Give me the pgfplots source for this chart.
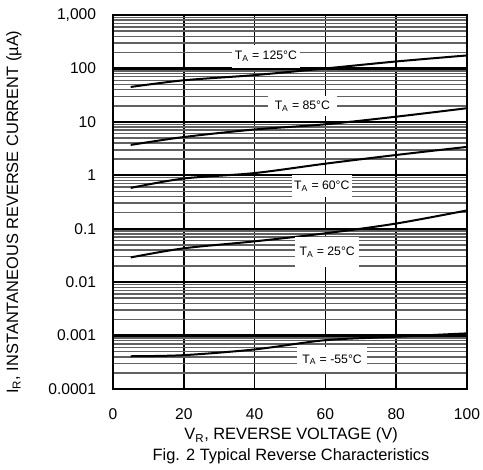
\documentclass[border=0pt]{standalone}
\usepackage{fontspec}
\setmainfont{Liberation Sans}
\usepackage{pgfplots}
\pgfplotsset{compat=1.18}
\begin{document}
\begin{tikzpicture}
\begin{axis}[
  scale only axis,
  width=265.5pt, height=280.5pt,
  xmin=0, xmax=100,
  ymode=log, ymin=0.0001, ymax=1000,
  log basis y=10,
  xtick={0,20,40,60,80,100},
  xticklabels={0,20,40,60,80,100},
  ytick={0.0001,0.001,0.01,0.1,1,10,100,1000},
  yticklabels={0.0001,0.001,0.01,0.1,1,10,100,{1,000}},
  minor ytick={2e-4,3e-4,4e-4,5e-4,6e-4,7e-4,8e-4,9e-4,
               2e-3,3e-3,4e-3,5e-3,6e-3,7e-3,8e-3,9e-3,
               2e-2,3e-2,4e-2,5e-2,6e-2,7e-2,8e-2,9e-2,
               0.2,0.3,0.4,0.5,0.6,0.7,0.8,0.9,
               2,3,4,5,6,7,8,9,
               20,30,40,50,60,70,80,90,
               200,300,400,500,600,700,800,900},
  xmajorgrids=true, ymajorgrids=true, yminorgrids=true,
  major x grid style={line width=1.2pt, black},
  major y grid style={line width=1.7pt, black},
  minor y grid style={line width=1.1pt, black!62},
  major tick length=0pt, minor tick length=0pt,
  axis line style={line width=1.2pt, black},
  tick label style={font=\fontsize{11.7}{13}\selectfont, inner sep=0pt},
  xticklabel style={anchor=center, yshift=-19pt},
  yticklabel style={anchor=east, xshift=-12.5pt},
  clip=false,
]
\addplot[black, line width=1.5pt, smooth] coordinates {(5,45) (20,60) (40,75) (60,100) (80,135) (100,175)};
\addplot[black, line width=1.5pt, smooth] coordinates {(5,3.7) (20,5.2) (40,7.2) (60,9.0) (80,12.5) (100,18)};
\addplot[black, line width=1.5pt, smooth] coordinates {(5,0.58) (20,0.87) (40,1.1) (60,1.65) (80,2.4) (100,3.4)};
\addplot[black, line width=1.5pt, smooth] coordinates {(5,0.029) (20,0.043) (40,0.058) (60,0.082) (80,0.125) (100,0.22)};
\addplot[black, line width=1.5pt, smooth] coordinates {(5,0.00041) (20,0.00043) (40,0.00055) (60,0.00082) (80,0.00095) (100,0.0011)};

\tikzset{tlab/.style={fill=white, inner sep=0pt, align=center, font=\fontsize{9.2}{10}\selectfont}}
\node[tlab, minimum width=51pt, minimum height=17pt] at (axis cs:43.2,167) {T\textsubscript{A} = 125°C};
\node[tlab, minimum width=52pt, minimum height=15pt] at (axis cs:53.5,19.8) {T\textsubscript{A} = 85°C};
\node[tlab, minimum width=45pt, minimum height=16pt] at (axis cs:59,0.63) {T\textsubscript{A} = 60°C};
\node[tlab, minimum width=48pt, minimum height=22pt] at (axis cs:60.5,0.0365) {T\textsubscript{A} = 25°C};
\node[tlab, minimum width=52.5pt, minimum height=19pt] at (axis cs:61.9,0.000354) {T\textsubscript{A} = -55°C};

\node[rotate=90, font=\fontsize{12.3}{14}\selectfont] at (rel axis cs:-0.2797,0.473) {I\textsubscript{R}, INSTANTANEOUS REVERSE CURRENT (µA)};
\node[font=\fontsize{12.3}{14}\selectfont] at (rel axis cs:0.503,-0.125) {V\textsubscript{R}, REVERSE VOLTAGE (V)};
\node[font=\fontsize{12.3}{14}\selectfont] at (rel axis cs:0.503,-0.181) {Fig. 2 Typical Reverse Characteristics};

\coordinate (ll) at (rel axis cs:0,0);
\coordinate (ur) at (rel axis cs:1,1);
\end{axis}
\pgfresetboundingbox
\path ([shift={(-84.75pt,-60.75pt)}]ll) rectangle ([shift={(12pt,11.25pt)}]ur);
\end{tikzpicture}
\end{document}
